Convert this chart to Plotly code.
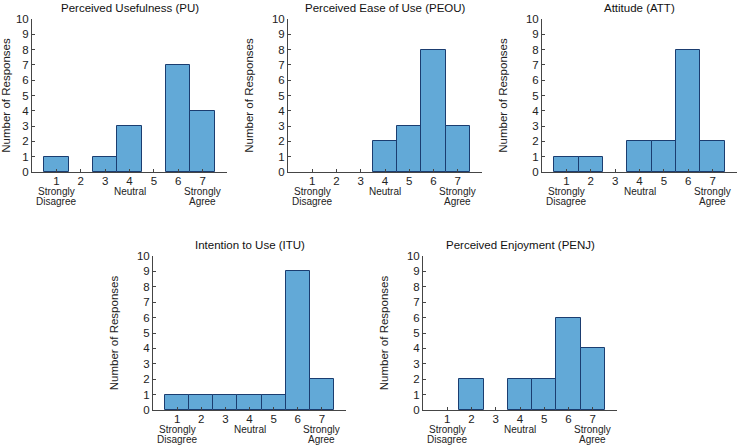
import plotly.graph_objects as go

# ---- data ----
scale_points = [1, 2, 3, 4, 5, 6, 7]
tick_labels = ["1", "2", "3", "4", "5", "6", "7"]
y_ticks = list(range(0, 11))

titles = ["Perceived Usefulness (PU)", "Perceived Ease of Use (PEOU)", "Attitude (ATT)",
          "Intention to Use (ITU)", "Perceived Enjoyment (PENJ)"]
pu_counts = [1, 0, 1, 3, 0, 7, 4]
peou_counts = [0, 0, 0, 2, 3, 8, 3]
att_counts = [1, 1, 0, 2, 2, 8, 2]
itu_counts = [1, 1, 1, 1, 1, 9, 2]
penj_counts = [0, 2, 0, 2, 2, 6, 4]
all_counts = [pu_counts, peou_counts, att_counts, itu_counts, penj_counts]

anchor_positions = [1, 4, 7]
anchor_line1 = ["Strongly", "Neutral", "Strongly"]
anchor_line2 = ["Disagree", "", "Agree"]
y_title = "Number of Responses"

# ---- layout geometry (pixels in a 740x447 canvas) ----
W, H = 740, 447
boxes = [  # (left, right, top, bottom) in px
    (32, 227, 19, 172),
    (288, 482, 19, 172),
    (542, 737, 19, 172),
    (153, 346, 256, 410),
    (423, 617, 256, 410),
]

FILL = "#62a9d7"
EDGE = "#1b3d70"
AXIS = "#454545"
TEXT = "#222222"
FONT = "Liberation Sans, Arial, sans-serif"

fig = go.Figure()
annotations = []
for i, (counts, (l, r, t, b)) in enumerate(zip(all_counts, boxes)):
    n = "" if i == 0 else str(i + 1)
    xa, ya = "x" + n, "y" + n
    # empty bins are not drawn (no outline along the axis)
    shown = [c if c > 0 else None for c in counts]
    fig.add_trace(go.Bar(
        x=scale_points, y=shown, width=1,
        marker=dict(color=FILL, line=dict(color=EDGE, width=1)),
        xaxis=xa, yaxis=ya, showlegend=False,
    ))
    xd = [l / W, r / W]
    yd = [1 - b / H, 1 - t / H]
    fig.layout["xaxis" + n] = dict(
        domain=xd, anchor=ya, range=[0, 8], tickmode="array",
        tickvals=scale_points, ticktext=tick_labels, automargin=False,
        ticks="inside", ticklen=3, tickcolor=AXIS, ticklabelstandoff=-2,
        showline=True, linecolor=AXIS, linewidth=1,
        showgrid=False, zeroline=False, fixedrange=True,
        tickfont=dict(size=11.5, color=TEXT, family=FONT),
    )
    fig.layout["yaxis" + n] = dict(
        domain=yd, anchor=xa, range=[0, 10], tickmode="array",
        tickvals=y_ticks, ticks="inside", ticklen=3, tickcolor=AXIS,
        showline=True, linecolor=AXIS, linewidth=1, automargin=False,
        showgrid=False, zeroline=False, fixedrange=True,
        tickfont=dict(size=11.5, color=TEXT, family=FONT),
        title=dict(text=y_title, font=dict(size=11.5, color=TEXT, family=FONT)),
    )
    annotations.append(dict(
        text=titles[i], x=(xd[0] + xd[1]) / 2, y=yd[1], xref="paper", yref="paper",
        xanchor="center", yanchor="bottom", yshift=3, showarrow=False,
        font=dict(size=11.5, color="#111111", family=FONT),
    ))
    for xp, s1, s2 in zip(anchor_positions, anchor_line1, anchor_line2):
        for s, shift in ((s1, -19), (s2, -29)):
            if s:
                annotations.append(dict(
                    text=s, x=xp, y=0, xref=xa, yref=ya, xanchor="center",
                    yanchor="middle", yshift=shift, showarrow=False,
                    font=dict(size=10, color=TEXT, family=FONT),
                ))

fig.update_layout(
    width=W, height=H, margin=dict(l=0, r=0, t=0, b=0, autoexpand=False),
    paper_bgcolor="white", plot_bgcolor="white", bargap=0,
    annotations=annotations, font=dict(family=FONT),
)
fig.write_html("out.html", config={"displayModeBar": False},
               post_script="document.body.style.margin='0px';")
